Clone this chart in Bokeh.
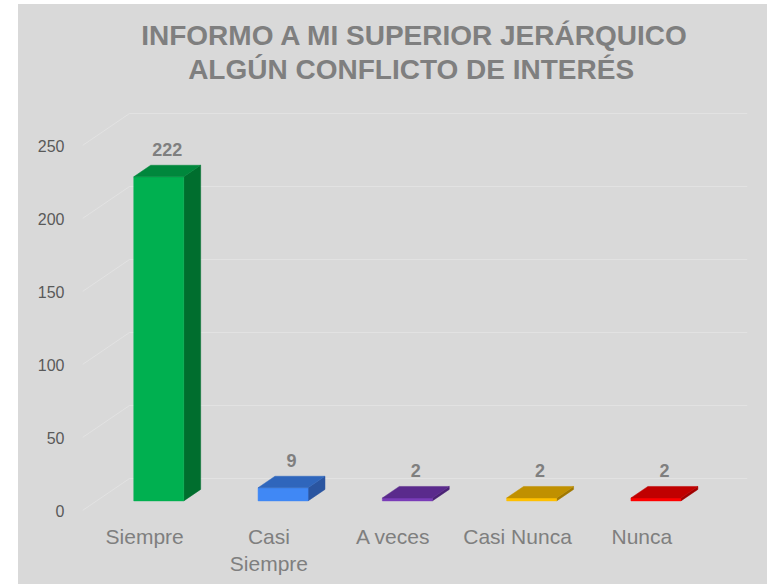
from bokeh.plotting import figure
from bokeh.models import Range1d, FixedTicker, Spacer, ColumnDataSource, Title
from bokeh.layouts import row, column
from bokeh.core.properties import value
from bokeh.embed import file_html
from bokeh.resources import INLINE

# ---- data ----
categories = ["Siempre", "Casi\nSiempre", "A veces", "Casi Nunca", "Nunca"]
counts = [222, 9, 2, 2, 2]
front_colors = ["#00B050", "#4088F5", "#7A3DB8", "#FFC000", "#FF0000"]
top_colors = ["#00873C", "#2F66BC", "#5A2A8C", "#C09000", "#C00000"]
side_colors = ["#006E2E", "#2A55A0", "#4A2275", "#A07800", "#A00000"]
y_ticks = [0, 50, 100, 150, 200, 250]

title_line1 = "INFORMO A MI SUPERIOR JERÁRQUICO"
title_line2 = "ALGÚN  CONFLICTO DE INTERÉS"

# ---- 3D styling constants (pixels converted into data units) ----
PX_X = 124.3   # pixels per category
PX_Y = 1.46    # pixels per unit value
DEPTH_X = 47 / PX_X
DEPTH_Y = 32 / PX_Y
BAR_FRONT = 0.30   # depth fraction of bar front face
BAR_BACK = 0.66    # depth fraction of bar back face
HALF_W = 25 / PX_X

BG = "#d9d9d9"
FONT = "Liberation Sans"

p = figure(width=749, height=580, output_backend="svg", toolbar_location=None,
           x_range=Range1d(-0.5, -0.5 + 665 / PX_X),
           y_range=Range1d(-10 / PX_Y, 405 / PX_Y),
           min_border_left=64, min_border_right=20,
           min_border_top=101, min_border_bottom=64)
p.background_fill_alpha = 0
p.border_fill_alpha = 0
p.styles = {"background-color": BG}
p.outline_line_color = None
p.xgrid.visible = False
p.ygrid.visible = False

# title (two centered lines; later-added titles sit closer to the frame)
p.title.text = title_line1
p.title.align = "center"
p.title.offset = -22
p.title.text_font = FONT
p.title.text_font_size = "28px"
p.title.text_font_style = "bold"
p.title.text_color = "#7f7f7f"
p.title.standoff = -38
p.add_layout(Title(text=title_line2, align="center", offset=-14, text_font=FONT,
                   text_font_size="28px", text_font_style="bold",
                   text_color="#7f7f7f", standoff=41), "above")

# gridlines: side wall diagonals + back wall horizontals
gx0 = [-0.5] * len(y_ticks)
gx1 = [-0.5 + DEPTH_X] * len(y_ticks)
gy1 = [t + DEPTH_Y for t in y_ticks]
gx2 = [p.x_range.end] * len(y_ticks)
p.segment(x0=gx0, y0=y_ticks, x1=gx1, y1=gy1, line_color="#e2e2e2", line_width=1)
p.segment(x0=gx1, y0=gy1, x1=gx2, y1=gy1, line_color="#e2e2e2", line_width=1)

# bars
fdx = BAR_FRONT * DEPTH_X
fdy = BAR_FRONT * DEPTH_Y
ddx = (BAR_BACK - BAR_FRONT) * DEPTH_X
ddy = (BAR_BACK - BAR_FRONT) * DEPTH_Y

front_x, front_y, side_x, side_y, top_x, top_y = [], [], [], [], [], []
for i, v in enumerate(counts):
    x0 = i + fdx - HALF_W
    x1 = i + fdx + HALF_W
    y0 = fdy
    y1 = fdy + v
    front_x.append([x0, x1, x1, x0])
    front_y.append([y0, y0, y1, y1])
    side_x.append([x1, x1 + ddx, x1 + ddx, x1])
    side_y.append([y0, y0 + ddy, y1 + ddy, y1])
    top_x.append([x0, x1, x1 + ddx, x0 + ddx])
    top_y.append([y1, y1, y1 + ddy, y1 + ddy])

p.patches(side_x, side_y, fill_color=side_colors, line_color=side_colors, line_width=0.5)
p.patches(front_x, front_y, fill_color=front_colors, line_color=front_colors, line_width=0.5)
p.patches(top_x, top_y, fill_color=top_colors, line_color=top_colors, line_width=0.5)

# value labels
lab_src = ColumnDataSource(dict(
    x=[i + fdx + ddx / 2 for i in range(len(counts))],
    y=[fdy + v + ddy / 2 for v in counts],
    t=[str(v) for v in counts],
))
p.text(x="x", y="y", text="t", source=lab_src, text_align="center",
       text_baseline="middle", y_offset=-22, text_font=value(FONT),
       text_font_size="18px", text_font_style="bold", text_color="#7f7f7f")

# axes
p.xaxis.ticker = FixedTicker(ticks=list(range(len(categories))))
p.xaxis.major_label_overrides = {i: c for i, c in enumerate(categories)}
p.xaxis.axis_line_color = None
p.xaxis.major_tick_line_color = None
p.xaxis.minor_tick_line_color = None
p.xaxis.major_label_standoff = -2
p.xaxis.major_label_text_font = FONT
p.xaxis.major_label_text_font_size = "21px"
p.xaxis.major_label_text_color = "#7f7f7f"

p.yaxis.ticker = FixedTicker(ticks=y_ticks)
p.yaxis.axis_line_color = None
p.yaxis.major_tick_line_color = None
p.yaxis.minor_tick_line_color = None
p.yaxis.major_label_standoff = 12
p.yaxis.major_label_text_font = FONT
p.yaxis.major_label_text_font_size = "16px"
p.yaxis.major_label_text_color = "#595959"

layout = column(Spacer(width=767, height=4), row(Spacer(width=18, height=580), p))

open("out.html", "w").write(file_html(layout, INLINE))
